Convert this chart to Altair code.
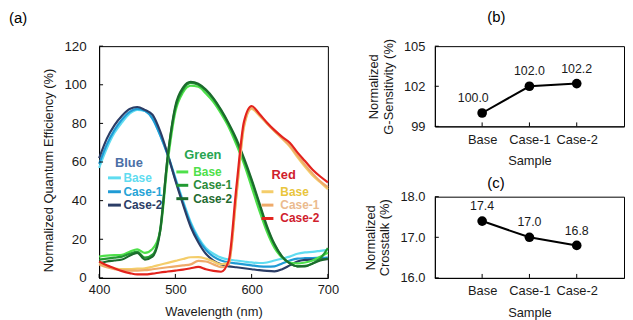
import altair as alt
import pandas as pd

# ---------------- data ----------------
wavelength = list(range(400, 701, 10))

blue_base = [57, 67, 75, 80.5, 85, 87, 86.5, 82.5, 74, 64, 52, 40, 29, 21, 15.5, 12.5, 10.5, 9.5, 9,
             8.5, 8, 7.7, 8, 9, 10, 11, 12.5, 13.2, 13.5, 14, 14.5]
blue_case1 = [59, 69, 76.5, 82, 86, 87.5, 86.5, 82.5, 74, 63.5, 51, 39, 28, 20, 14.5, 11, 9, 8, 7.5,
              7, 6.5, 6, 5.8, 6, 7.5, 9, 10, 10.2, 10.3, 10.4, 10.5]
blue_case2 = [62, 72, 79, 84, 87.5, 88.5, 87, 84.5, 76, 64, 50.5, 38, 26.5, 18.5, 12.5, 9, 7, 6, 5.5,
              5, 4.5, 4, 3.6, 3.4, 4.5, 6.5, 8.5, 9.3, 9.5, 9.6, 9.7]

green_base = [11, 11.5, 11.8, 12, 13.5, 14.8, 13, 15, 24, 60, 86, 96, 99.5, 99, 95.5, 91, 85, 78, 69,
              59, 47, 35, 24, 15.5, 10.5, 8, 7.5, 8, 9, 11, 13]
green_case1 = [9.5, 10, 10.5, 11, 12.5, 13.5, 10.5, 12, 25, 63, 88, 97.5, 101, 100, 97, 92.5, 86.5,
               79.5, 71, 61, 50, 38, 26, 17, 11, 7.5, 6, 6.2, 7.5, 10, 15.5]
green_case2 = [7.5, 8.5, 9, 9.5, 11.5, 13, 9.5, 11, 24, 63, 89, 98.5, 101.5, 100.5, 97.5, 93, 87, 80,
               72, 62, 51, 39, 27, 17.5, 11, 7.5, 6, 6, 7.5, 9, 10]

red_base = [7.5, 6, 5, 4.5, 4.5, 4.8, 5, 5.8, 6.8, 7.8, 8.8, 9.8, 10.7, 10.8, 10, 8.5, 7, 8, 42, 78,
            87.5, 84, 80, 76, 72, 68, 62.5, 57.5, 53, 49.5, 46]
red_case1 = [7, 5.5, 4.5, 4, 3.8, 3.8, 4, 4.5, 5, 5.5, 6, 6.5, 7, 8.8, 8.5, 7, 5.5, 7, 43, 79, 88,
             84.5, 80, 76, 72.5, 68.5, 63.5, 58.5, 54, 50, 47]
red_case2 = [8.5, 6.5, 5, 3.5, 2.5, 1.8, 1.8, 2.2, 2.8, 3.3, 3.8, 4.3, 5, 5.7, 4.5, 3.6, 3.2, 9, 47,
             81, 89, 85, 80.5, 76.5, 73, 70, 65, 60.5, 56, 52.5, 49.5]

families = ["Blue", "Green", "Red"]
cases = ["Base", "Case-1", "Case-2"]
curves = {
    "Blue": [blue_base, blue_case1, blue_case2],
    "Green": [green_base, green_case1, green_case2],
    "Red": [red_base, red_case1, red_case2],
}

x_ticks_a = [400, 500, 600, 700]
y_ticks_a = [0, 20, 40, 60, 80, 100, 120]

samples = ["Base", "Case-1", "Case-2"]
g_sensitivity = [100.0, 102.0, 102.2]
crosstalk = [17.4, 17.0, 16.8]
g_ticks = [99, 102, 105]
c_ticks = [16.0, 17.0, 18.0]

# ---------------- styles / layout ----------------
FONT = "Liberation Sans"
line_colors = {
    "Blue": ["#5fdcf0", "#1f9bd5", "#2b3d66"],
    "Green": ["#4ee04a", "#229a32", "#1b6b2c"],
    "Red": ["#f4cd6a", "#efaa6a", "#e3231d"],
}
header_colors = {"Blue": "#4b6fa6", "Green": "#27a551", "Red": "#d0202c"}
text_colors = {
    "Blue": ["#5fdcf0", "#25a3d6", "#2b3d66"],
    "Green": ["#4ee04a", "#2a8c3a", "#1f6b30"],
    "Red": ["#e9c53c", "#ebbb8e", "#d0202c"],
}
# legend placement in plot-area pixels
legend_layout = {
    "Blue": dict(head_x=16, head_y=118, line_x=(9, 22), text_x=24.5, rows=(133, 147, 160.5)),
    "Green": dict(head_x=86, head_y=110, line_x=(78, 90), text_x=95, rows=(127, 140.5, 154)),
    "Red": dict(head_x=174, head_y=130.5, line_x=(164, 176), text_x=183, rows=(147, 160.5, 174)),
}

A_W, A_H = 231, 234
S_W = 191
B_H, C_H = 81, 82
TICK = 4

# ---------------- panel (a) ----------------
xa = alt.X("wavelength:Q", scale=alt.Scale(domain=[400, 700], nice=False),
           axis=alt.Axis(values=x_ticks_a, title="Wavelength (nm)", labelPadding=6,
                         titlePadding=9, format="d", labelFlush=False))
ya = alt.Y("qe:Q", scale=alt.Scale(domain=[0, 120], nice=False),
           axis=alt.Axis(values=y_ticks_a, title="Normalized Quantum Efficiency (%)",
                         labelPadding=13, titlePadding=9, titleY=125, labelFontSize=13.5))

layers = []
for fam in families:
    for i, case in enumerate(cases):
        d = pd.DataFrame({"wavelength": wavelength, "qe": curves[fam][i]})
        layers.append(
            alt.Chart(d).mark_line(color=line_colors[fam][i], strokeWidth=2.2,
                                   interpolate="monotone").encode(x=xa, y=ya)
        )

leg_text_rows, leg_line_rows = [], []
for fam in families:
    L = legend_layout[fam]
    leg_text_rows.append(dict(label=fam, px=L["head_x"], py=L["head_y"],
                              color=header_colors[fam], size=13))
    for i, case in enumerate(cases):
        leg_text_rows.append(dict(label=case, px=L["text_x"], py=L["rows"][i],
                                  color=text_colors[fam][i], size=12))
        leg_line_rows.append(dict(px=L["line_x"][0], px2=L["line_x"][1], py=L["rows"][i],
                                  color=line_colors[fam][i]))
leg_text = alt.Chart(pd.DataFrame(leg_text_rows)).mark_text(
    align="left", baseline="middle", fontWeight="bold", font=FONT).encode(
    x=alt.X("px:Q", scale=None),
    y=alt.Y("py:Q", scale=None),
    text="label:N",
    color=alt.Color("color:N", scale=None),
    size=alt.Size("size:Q", scale=None),
)
leg_lines = alt.Chart(pd.DataFrame(leg_line_rows)).mark_rule(strokeWidth=3).encode(
    x=alt.X("px:Q", scale=None),
    x2="px2:Q",
    y=alt.Y("py:Q", scale=None),
    color=alt.Color("color:N", scale=None),
)

a_xticks = alt.Chart(pd.DataFrame({"wavelength": x_ticks_a})).mark_rule(color="black").encode(
    x=xa, y=alt.value(A_H), y2=alt.value(A_H - TICK))
a_yticks = alt.Chart(pd.DataFrame({"qe": y_ticks_a})).mark_rule(color="black").encode(
    y=ya, x=alt.value(0), x2=alt.value(TICK))

panel_a = alt.layer(*layers, a_xticks, a_yticks, leg_lines, leg_text).properties(
    width=A_W, height=A_H,
    title=alt.TitleParams("(a)", anchor="start", frame="group", dx=-91, offset=13,
                          fontSize=15, fontWeight="normal", font=FONT),
)


# ---------------- panels (b), (c) ----------------
def small_panel(values, domain, ticks, fmt, ytitle, ptitle, height, toffset, base_dx):
    df = pd.DataFrame({"sample": samples, "value": values})
    x = alt.X("sample:N", sort=samples, scale=alt.Scale(type="point", padding=1),
              axis=alt.Axis(title="Sample", labelAngle=0, labelPadding=7, titlePadding=9))
    y = alt.Y("value:Q", scale=alt.Scale(domain=domain, nice=False, zero=False),
              axis=alt.Axis(values=ticks, format=fmt, title=ytitle, labelPadding=10,
                            titlePadding=8, titleLineHeight=15))
    base = alt.Chart(df)
    line = base.mark_line(color="black", strokeWidth=2).encode(x=x, y=y)
    pts = base.mark_circle(size=95, color="black", opacity=1).encode(x=x, y=y)
    lab_first = base.transform_filter(alt.datum.sample == samples[0]).mark_text(
        dy=-15, dx=base_dx, fontSize=12.5, font=FONT, color="#1a1a1a").encode(
        x=x, y=y, text=alt.Text("value:Q", format=".1f"))
    lab_rest = base.transform_filter(alt.datum.sample != samples[0]).mark_text(
        dy=-15, fontSize=12.5, font=FONT, color="#1a1a1a").encode(
        x=x, y=y, text=alt.Text("value:Q", format=".1f"))
    xt = base.mark_rule(color="black").encode(
        x=x, y=alt.value(height), y2=alt.value(height - TICK))
    yt = alt.Chart(pd.DataFrame({"value": ticks})).mark_rule(color="black").encode(
        y=y, x=alt.value(0), x2=alt.value(TICK))
    return alt.layer(line, pts, lab_first, lab_rest, xt, yt).properties(
        width=S_W, height=height,
        title=alt.TitleParams(ptitle, anchor="start", frame="group", dx=53, offset=toffset,
                              fontSize=15, fontWeight="normal", font=FONT),
    )


panel_b = small_panel(g_sensitivity, [99, 105], g_ticks, "d",
                      ["Normalized", "G-Sensitivity (%)"], "(b)", B_H, 13, -9)
panel_c = small_panel(crosstalk, [16, 18], c_ticks, ".1f",
                      ["Normalized", "Crosstalk (%)"], "(c)", C_H, 0, 0)

right = alt.vconcat(panel_b, panel_c, spacing=6)

chart = alt.hconcat(panel_a, right, spacing=24).properties(padding=0).configure(
    font=FONT
).configure_axis(
    labelFont=FONT, titleFont=FONT, labelFontSize=13, titleFontSize=13,
    titleFontWeight="normal", labelColor="#1a1a1a", titleColor="#1a1a1a",
    domainColor="black", grid=False, ticks=False,
).configure_view(stroke="black", strokeWidth=1)

chart.save("out.html", embed_options={"renderer": "svg", "actions": False})
